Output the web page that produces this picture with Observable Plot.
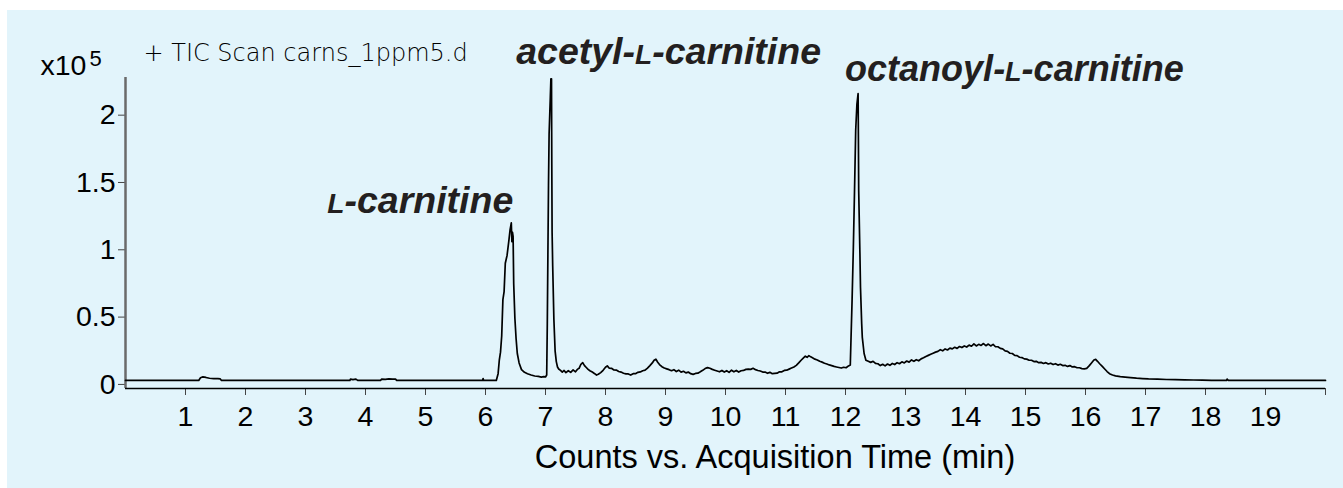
<!DOCTYPE html>
<html><head><meta charset="utf-8">
<script src="https://cdn.jsdelivr.net/npm/d3@7"></script>
<script src="https://cdn.jsdelivr.net/npm/@observablehq/plot@0.6"></script>
<style>
html,body{margin:0;padding:0;background:#fff;}
#chart{position:absolute;left:7px;top:10px;width:1336px;height:478px;background:#e2f4fb;overflow:hidden;}
#chart svg{background:transparent !important;}
#chart g[aria-label="y-axis tick"] path, #chart g[aria-label="x-axis tick"] path{stroke:#444;}
</style></head><body><div id="chart"></div>
<script>
// Retention time (min)
const time = [
  0,1.22,1.25,1.29,1.34,1.40,1.47,1.54,1.58,1.60,3.74,3.75,3.79,3.84,3.87,4.25,4.27,4.33,4.39,4.45,4.50,4.52,5.95,5.96,5.97,6.18,
  6.21,6.23,6.25,6.27,6.29,6.31,6.33,6.36,6.39,6.41,6.43,6.44,6.45,6.46,6.47,6.49,6.51,6.53,6.56,6.60,6.65,6.70,6.76,6.82,6.88,6.93,6.97,7.00,
  7.02,7.03,7.05,7.06,7.08,7.09,7.10,7.105,7.11,7.12,7.14,7.16,7.18,7.20,7.22,
  7.25,7.28,7.31,7.34,7.38,7.42,7.46,7.50,7.53,7.56,
  7.59,7.62,7.65,7.68,7.71,7.74,7.78,7.82,7.85,7.88,
  7.92,7.96,8.00,8.03,8.06,8.10,8.14,8.18,8.22,8.26,
  8.30,8.34,8.38,8.42,8.46,8.50,8.54,8.58,8.62,8.66,
  8.70,8.74,8.78,8.81,8.84,8.87,8.90,8.94,8.98,9.02,
  9.06,9.10,9.14,9.18,9.22,9.26,9.30,9.34,9.38,9.42,
  9.46,9.50,9.54,9.58,9.62,9.66,9.70,9.74,9.78,9.82,
  9.86,9.90,9.94,9.98,10.02,10.06,10.10,10.14,10.18,10.22,
  10.26,10.30,10.34,10.38,10.42,10.46,10.50,10.54,10.58,10.62,
  10.66,10.70,10.74,10.78,10.82,10.86,10.90,10.94,10.98,11.02,
  11.06,11.10,11.14,11.18,11.22,11.26,11.30,11.33,11.36,11.39,
  11.42,11.45,11.49,11.53,11.57,11.61,11.65,11.69,11.73,11.77,
  11.81,11.85,11.89,11.93,11.97,12.01,12.05,12.08,
  12.09,12.11,12.13,12.15,12.17,12.19,12.21,12.215,12.22,12.24,12.25,12.27,12.28,12.31,12.34,
  12.38,12.42,12.46,12.50,12.54,12.58,12.62,12.66,12.70,12.74,
  12.78,12.82,12.86,12.90,12.94,12.98,13.02,13.06,13.10,13.14,
  13.18,13.22,13.26,13.30,13.34,13.38,13.42,13.46,13.50,13.54,
  13.58,13.62,13.66,13.70,13.74,13.78,13.82,13.86,13.90,13.94,
  13.98,14.02,14.06,14.10,14.14,14.18,14.22,14.26,14.30,14.34,
  14.38,14.42,14.46,14.50,14.54,14.58,14.62,14.66,14.70,14.74,
  14.78,14.82,14.86,14.90,14.94,14.98,15.02,15.06,15.10,15.14,
  15.18,15.22,15.26,15.30,15.34,15.38,15.42,15.46,15.50,15.54,
  15.58,15.62,15.66,15.70,15.74,15.78,15.82,15.86,15.90,15.94,
  15.98,16.02,16.06,16.10,16.14,16.17,16.20,16.24,16.28,16.32,
  16.36,16.40,16.45,16.50,16.58,16.66,16.75,16.85,16.95,17.05,
  17.20,17.35,17.50,17.65,17.80,17.95,18.10,18.20,18.35,18.36,
  18.38,20.00
];
// Counts (x10^5)
const counts = [
  0,0,0.02,0.026,0.022,0.016,0.014,0.013,0.011,0,0,0.01,0.006,0.01,0,0,0.01,0.008,0.012,0.009,0.01,0,0,0.014,0,0,
  0.05,0.15,0.21,0.33,0.6,0.66,0.87,0.93,1.04,1.12,1.17,1.03,1.1,1.07,0.72,0.46,0.31,0.2,0.13,0.08,0.06,0.05,0.04,0.033,0.03,0.024,0.028,0.026,
  0.04,0.42,1.45,1.83,2.1,2.24,2.24,1.6,1.1,0.85,0.45,0.22,0.14,0.1,0.085,
  0.075,0.062,0.074,0.058,0.072,0.06,0.078,0.064,0.082,0.09,
  0.12,0.132,0.11,0.096,0.082,0.072,0.062,0.05,0.04,0.046,
  0.058,0.075,0.098,0.108,0.092,0.09,0.078,0.077,0.066,0.062,
  0.053,0.049,0.048,0.04,0.05,0.05,0.06,0.063,0.072,0.076,
  0.092,0.11,0.13,0.15,0.158,0.135,0.118,0.102,0.092,0.086,
  0.08,0.072,0.08,0.066,0.076,0.062,0.068,0.056,0.062,0.05,
  0.045,0.052,0.054,0.064,0.075,0.088,0.095,0.09,0.082,0.076,
  0.07,0.064,0.074,0.062,0.072,0.06,0.076,0.064,0.074,0.062,
  0.072,0.074,0.082,0.084,0.082,0.09,0.08,0.074,0.07,0.062,
  0.062,0.053,0.06,0.05,0.052,0.054,0.064,0.064,0.074,0.076,
  0.084,0.092,0.1,0.112,0.13,0.15,0.168,0.18,0.172,0.184,
  0.175,0.168,0.158,0.152,0.142,0.136,0.128,0.122,0.115,0.11,
  0.104,0.1,0.096,0.092,0.098,0.094,0.108,0.115,
  0.28,0.6,0.97,1.4,1.86,2.05,2.13,1.8,1.41,0.95,0.69,0.42,0.32,0.2,0.15,
  0.142,0.134,0.142,0.126,0.124,0.11,0.12,0.108,0.122,0.112,
  0.126,0.118,0.132,0.124,0.138,0.13,0.144,0.136,0.152,0.142,
  0.154,0.146,0.16,0.168,0.178,0.186,0.194,0.202,0.21,0.216,
  0.228,0.22,0.234,0.226,0.24,0.234,0.246,0.238,0.252,0.244,
  0.256,0.248,0.262,0.254,0.272,0.256,0.268,0.26,0.274,0.258,
  0.27,0.256,0.268,0.25,0.25,0.238,0.234,0.22,0.216,0.202,
  0.2,0.186,0.184,0.172,0.17,0.16,0.158,0.15,0.15,0.14,
  0.142,0.132,0.134,0.126,0.132,0.122,0.128,0.118,0.124,0.114,
  0.12,0.11,0.112,0.104,0.11,0.1,0.102,0.094,0.094,0.088,
  0.086,0.09,0.108,0.13,0.152,0.156,0.142,0.122,0.104,0.085,
  0.066,0.05,0.04,0.034,0.028,0.025,0.021,0.017,0.014,0.011,
  0.009,0.007,0.006,0.004,0.003,0.002,0.001,0,0,0.01,
  0,0
];
const peakNames = ["L-carnitine", "acetyl-L-carnitine", "octanoyl-L-carnitine"];
const peakTimes = [6.43, 7.095, 12.21];
const peakHeights = [1.17, 2.24, 2.13];
const xTicks = [1,2,3,4,5,6,7,8,9,10,11,12,13,14,15,16,17,18,19,20];
const yTicks = [0, 0.5, 1, 1.5, 2];
const xLabel = "Counts vs. Acquisition Time (min)";
const scanTitle = "+ TIC Scan carns_1ppm5.d";
const scaleText = "x10";
const scaleExp = "5";

const data = time.map((t, i) => ({t, v: counts[i]}));
const peaks = peakNames.map((name, i) => ({name, t: peakTimes[i], v: peakHeights[i]}));
const labelPlacement = [
  {textAnchor: "end", dx: 2, dy: -10, size: 37.5},
  {textAnchor: "start", dx: -35, dy: -15, size: 37.5},
  {textAnchor: "start", dx: -13, dy: -13, size: 36}
];
const yMin = -0.06, yMax = 2.25;
const sans = "'Liberation Sans', Arial, Helvetica, sans-serif";

const plot = Plot.plot({
  width: 1336, height: 478,
  marginLeft: 118, marginRight: 18, marginTop: 67, marginBottom: 100,
  style: {background: "transparent", overflow: "visible", fontFamily: sans, color: "#000"},
  x: {domain: [0, 20]},
  y: {domain: [yMin, yMax]},
  marks: [
    Plot.axisY(yTicks, {tickSize: 7, tickPadding: 3, fontSize: 28.5, dy: 4, label: null, tickFormat: d => String(d)}),
    Plot.axisX(xTicks, {tickSize: 7, tickPadding: 10, fontSize: 28.5, label: null, tickFormat: d => d === 20 ? "" : String(d)}),
    Plot.ruleX([0], {y1: yMin, y2: yMax, stroke: "#6a6a6a", strokeWidth: 2.5}),
    Plot.ruleY([yMin], {x1: 0, x2: 20, stroke: "#000", strokeWidth: 1.4}),
    Plot.line(data, {x: "t", y: "v", stroke: "#000", strokeWidth: 1.7}),
    ...peaks.map((p, i) => Plot.text([p], {
      x: "t", y: "v", text: "name", lineAnchor: "bottom",
      textAnchor: labelPlacement[i].textAnchor, dx: labelPlacement[i].dx, dy: labelPlacement[i].dy,
      fontSize: labelPlacement[i].size, fontWeight: "bold", fontStyle: "italic", fill: "#231f20"
    })),
    Plot.text([scaleText], {text: d => d, frameAnchor: "top-left", textAnchor: "start", lineAnchor: "bottom", dx: -85, dy: -3, fontSize: 28.5, fill: "#000"}),
    Plot.text([scaleExp], {text: d => d, frameAnchor: "top-left", textAnchor: "start", lineAnchor: "bottom", dx: -36, dy: -12, fontSize: 22, fill: "#000"}),
    Plot.text([scanTitle], {text: d => d, frameAnchor: "top-left", textAnchor: "start", lineAnchor: "bottom", dx: 18, dy: -17, fontSize: 24, fontFamily: "'DejaVu Sans', sans-serif", fontWeight: 200, fill: "#000"}),
    Plot.text([xLabel], {text: d => d, frameAnchor: "bottom", textAnchor: "middle", lineAnchor: "bottom", dx: 49.5, dy: 79, fontSize: 32.5, fill: "#000"})
  ]
});

// small-capital "L" in the compound names
d3.select(plot).selectAll("text").each(function() {
  const s = this.textContent;
  if (!peakNames.includes(s)) return;
  const sel = d3.select(this);
  sel.text(null);
  s.split("L").forEach((part, i) => {
    if (i > 0) sel.append("tspan").attr("font-size", "0.75em").text("L");
    if (part) sel.append("tspan").text(part);
  });
});

document.getElementById("chart").appendChild(plot);
</script>
</body></html>
